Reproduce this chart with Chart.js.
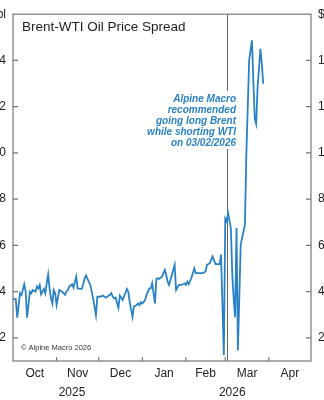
<!DOCTYPE html>
<html>
<head>
<meta charset="utf-8">
<script src="https://cdn.jsdelivr.net/npm/chart.js@4.4.1/dist/chart.umd.min.js"></script>
<style>
    html, body { margin: 0; padding: 0; background: #fff; overflow: hidden; }
    #wrap { width: 324px; height: 400px; }
</style>
</head>
<body>
<div id="wrap"><canvas id="myChart" width="324" height="400"></canvas></div>
<script>
// days counted from 2025-10-01
var days = [0,2,3,5,6,8,9,10,12,13,14,16,17,18,19,20,21,22,23,24,25,26,27,28,29,30,31,32,33,35,
    36,37,38,39,40,42,43,45,46,48,49,51,52,53,55,57,59,60,62,64,66,69,70,71,72,73,75,76,78,81,
    82,83,85,86,88,89,90,91,92,94,95,97,98,99,101,102,103,104,106,108,109,110,111,113,115,116,118,120,122,123,
    124,125,127,129,130,133,135,137,138,140,142,144,146,147,148,150,151,152,153,155,
    156,157,158,159,160,162,163,165,166,168,170,171,172,173,174,176,177,178]
// Brent - WTI, $/bbl
var spread = [3.68,3.68,2.87,3.93,3.86,4.32,4.0,2.87,4.0,3.93,4.07,4.0,4.22,4.14,4.29,3.88,4.0,4.12,3.93,4.36,
    4.75,4.14,3.71,3.49,4.07,3.93,3.42,3.78,4.07,4.0,3.93,3.86,4.0,4.07,4.22,4.32,4.17,4.65,4.14,4.12,
    4.12,4.58,4.7,4.55,4.29,3.71,2.99,3.78,3.78,3.83,3.74,3.86,3.93,3.78,3.71,3.74,3.3,3.83,3.64,4.12,
    4.0,3.57,2.91,3.35,3.42,3.49,3.42,3.54,3.49,3.64,3.86,4.14,4.14,4.36,3.49,4.55,4.58,4.55,4.65,4.94,
    4.72,4.43,4.29,4.72,5.16,4.07,4.29,4.29,4.36,4.29,4.43,4.32,4.61,5.01,4.8,4.8,4.8,4.87,5.16,5.23,
    5.52,5.19,5.19,5.19,5.6,1.25,7.16,7.04,7.4,6.75,4.72,3.7,2.9,6.75,1.46,6.03,6.32,6.9,9.94,14.0,
    14.87,13.1,11.47,11.25,12.84,14.5,13.86,12.99]

var monthNames = ['Oct', 'Nov', 'Dec', 'Jan', 'Feb', 'Mar', 'Apr']
var monthMid = [15.5, 46, 76.5, 107.5, 137, 166.5, 197]
var monthStart = [31, 61, 92, 123, 151, 182]
var yearNames = ['2025', '2026']
var yearPos = [42, 156]
var yTicks = [2, 4, 6, 8, 10, 12, 14, 16]
var unitLabel = '$/bbl'
var callDay = 152
var note = ['Alpine Macro', 'recommended', 'going long Brent', 'while shorting WTI', 'on 03/02/2026']
var title = 'Brent-WTI Oil Price Spread'
var source = '\u00A9 Alpine Macro 2026'

var blue = '#2a82c6'
var frameColor = '#777'
var textColor = '#222'

Chart.defaults.font.family = "'Liberation Sans', Arial, sans-serif"
Chart.defaults.color = textColor

function yLabel(value) {
    return value === 16 ? unitLabel : String(value)
}

function setYTicks(scale) {
    scale.ticks = yTicks.map(v => ({ value: v }))
}

// frame, inward ticks, marker line, texts
const extras = {
    id: 'extras',
    beforeDatasetsDraw(chart) {
        const { ctx, chartArea: a, scales } = chart
        const xv = Math.round(scales.x.getPixelForValue(callDay)) + 0.5
        ctx.save()
        ctx.strokeStyle = '#666'
        ctx.lineWidth = 1
        ctx.beginPath()
        ctx.moveTo(xv, a.top)
        ctx.lineTo(xv, a.bottom)
        ctx.stroke()
        ctx.restore()
    },
    afterDatasetsDraw(chart) {
        const { ctx, chartArea: a, scales } = chart
        ctx.save()

        // note with white box
        ctx.fillStyle = '#fff'
        ctx.fillRect(160, 91, 78, 58)
        ctx.font = "italic bold 10px 'Liberation Sans Narrow', 'Liberation Sans', sans-serif"
        ctx.fillStyle = blue
        ctx.textAlign = 'right'
        ctx.textBaseline = 'middle'
        note.forEach((t, i) => ctx.fillText(t, 236, 99 + i * 11))

        // frame
        ctx.strokeStyle = frameColor
        ctx.lineWidth = 1.2
        ctx.strokeRect(a.left, a.top, a.right - a.left, a.bottom - a.top)

        // ticks pointing inward
        ctx.beginPath()
        yTicks.forEach(v => {
            if (v >= 16) return
            const y = scales.y.getPixelForValue(v)
            ctx.moveTo(a.left, y); ctx.lineTo(a.left + 5, y)
            ctx.moveTo(a.right - 5, y); ctx.lineTo(a.right, y)
        })
        monthStart.forEach(d => {
            const x = scales.x.getPixelForValue(d)
            ctx.moveTo(x, a.bottom); ctx.lineTo(x, a.bottom - 4)
        })
        ctx.stroke()

        // title and source
        ctx.fillStyle = textColor
        ctx.textAlign = 'left'
        ctx.textBaseline = 'alphabetic'
        ctx.font = "13.5px 'Liberation Sans', Arial, sans-serif"
        ctx.fillText(title, 22, 30.5)
        ctx.fillStyle = '#333'
        ctx.textBaseline = 'middle'
        ctx.font = "7.5px 'Liberation Sans', Arial, sans-serif"
        ctx.fillText(source, 21, 348)
        ctx.restore()
    }
}

function gerarGrafico() {
    const ctx = document.getElementById('myChart')

    new Chart(ctx, {
        type: 'line',
        data: {
            datasets: [{
                label: 'Brent-WTI spread',
                data: days.map((d, i) => ({ x: d, y: spread[i] })),
                borderColor: blue,
                borderWidth: 1.8,
                pointRadius: 0,
                tension: 0,
                fill: false
            }]
        },
        options: {
            responsive: false,
            animation: false,
            devicePixelRatio: 1,
            layout: { padding: { top: 13, left: 0, right: 0, bottom: 0 } },
            plugins: {
                legend: { display: false },
                tooltip: { enabled: false }
            },
            scales: {
                x: {
                    type: 'linear',
                    position: 'bottom',
                    min: 0,
                    max: 212,
                    grid: { display: false, drawTicks: false },
                    border: { display: false },
                    afterBuildTicks: s => { s.ticks = monthMid.map(v => ({ value: v })) },
                    afterFit: s => { s.height = 20 },
                    ticks: {
                        autoSkip: false,
                        maxRotation: 0,
                        padding: 5,
                        font: { size: 12 },
                        callback: (v, i) => monthNames[i]
                    }
                },
                years: {
                    type: 'linear',
                    position: 'bottom',
                    min: 0,
                    max: 212,
                    grid: { display: false, drawTicks: false },
                    border: { display: false },
                    afterBuildTicks: s => { s.ticks = yearPos.map(v => ({ value: v })) },
                    afterFit: s => { s.height = 19 },
                    ticks: {
                        autoSkip: false,
                        maxRotation: 0,
                        padding: 4,
                        font: { size: 12 },
                        callback: (v, i) => yearNames[i]
                    }
                },
                y: {
                    type: 'linear',
                    position: 'left',
                    min: 1,
                    max: 16,
                    grid: { display: false, drawTicks: false },
                    border: { display: false },
                    afterBuildTicks: setYTicks,
                    afterFit: s => { s.width = 13 },
                    ticks: { padding: 7, font: { size: 12 }, callback: yLabel }
                },
                y2: {
                    type: 'linear',
                    position: 'right',
                    min: 1,
                    max: 16,
                    grid: { display: false, drawTicks: false },
                    border: { display: false },
                    afterBuildTicks: setYTicks,
                    afterFit: s => { s.width = 13 },
                    ticks: { padding: 7, font: { size: 12 }, callback: yLabel }
                }
            }
        },
        plugins: [extras]
    })
}

gerarGrafico()
</script>
</body>
</html>
